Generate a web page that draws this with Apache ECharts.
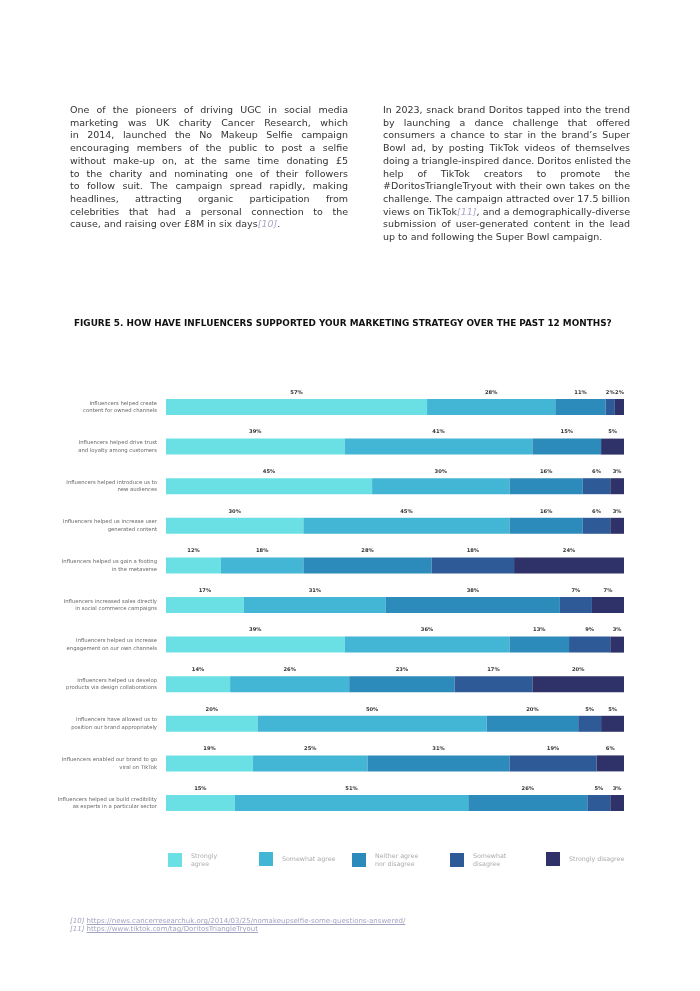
<!DOCTYPE html>
<html>
<head>
<meta charset="utf-8">
<script src="https://cdn.jsdelivr.net/npm/echarts@6/dist/echarts.min.js"></script>
<style>
html,body{margin:0;padding:0;background:#fff;width:700px;height:991px;overflow:hidden;}
#chart{position:absolute;left:0;top:0;width:700px;height:991px;}
.col{position:absolute;top:104px;font-family:'DejaVu Sans',sans-serif;font-size:9.5px;line-height:12.7px;color:#333;z-index:2;}
.col div{text-align:justify;text-align-last:justify;white-space:nowrap;}
.col div.last{text-align-last:left;}
.ref{font-style:italic;color:#a9a9c6;}
#notes{position:absolute;left:70px;top:917px;font-family:'DejaVu Sans',sans-serif;font-size:7px;line-height:8px;color:#a3a3c2;z-index:2;}
#notes span{font-style:italic;}
#notes u{text-decoration:underline;}
</style>
</head>
<body>
<div id="chart"></div>
<div class="col" style="left:70px;width:278px;">
<div>One of the pioneers of driving UGC in social media</div>
<div>marketing was UK charity Cancer Research, which</div>
<div>in 2014, launched the No Makeup Selfie campaign</div>
<div>encouraging members of the public to post a selfie</div>
<div>without make-up on, at the same time donating £5</div>
<div>to the charity and nominating one of their followers</div>
<div>to follow suit. The campaign spread rapidly, making</div>
<div>headlines, attracting organic participation from</div>
<div>celebrities that had a personal connection to the</div>
<div class="last">cause, and raising over £8M in six days<span class="ref">[10]</span>.</div>
</div>
<div class="col" style="left:383px;width:247px;">
<div>In 2023, snack brand Doritos tapped into the trend</div>
<div>by launching a dance challenge that offered</div>
<div>consumers a chance to star in the brand’s Super</div>
<div>Bowl ad, by posting TikTok videos of themselves</div>
<div>doing a triangle-inspired dance. Doritos enlisted the</div>
<div>help of TikTok creators to promote the</div>
<div>#DoritosTriangleTryout with their own takes on the</div>
<div>challenge. The campaign attracted over 17.5 billion</div>
<div>views on TikTok<span class="ref">[11]</span>, and a demographically-diverse</div>
<div>submission of user-generated content in the lead</div>
<div class="last">up to and following the Super Bowl campaign.</div>
</div>
<div id="notes">
<div><span>[10]</span> <u>https://news.cancerresearchuk.org/2014/03/25/nomakeupselfie-some-questions-answered/</u></div>
<div><span>[11]</span> <u>https://www.tiktok.com/tag/DoritosTriangleTryout</u></div>
</div>
<script>
const categories = [
  'Influencers helped create\ncontent for owned channels',
  'Influencers helped drive trust\nand loyalty among customers',
  'Influencers helped introduce us to\nnew audiences',
  'Influencers helped us increase user\ngenerated content',
  'Influencers helped us gain a footing\nin the metaverse',
  'Influencers increased sales directly\nin social commerce campaigns',
  'Influencers helped us increase\nengagement on our own channels',
  'Influencers helped us develop\nproducts via design collaborations',
  'Influencers have allowed us to\nposition our brand appropriately',
  'Influencers enabled our brand to go\nviral on TikTok',
  'Influencers helped us build credibility\nas experts in a particular sector'
];
const seriesNames = ['Strongly agree','Somewhat agree','Neither agree nor disagree','Somewhat disagree','Strongly disagree'];
const legendLabels = ['Strongly\nagree','Somewhat agree','Neither agree\nnor disagree','Somewhat\ndisagree','Strongly disagree'];
const stronglyAgree    = [57,39,45,30,12,17,39,14,20,19,15];
const somewhatAgree    = [28,41,30,45,18,31,36,26,50,25,51];
const neither          = [11,15,16,16,28,38,13,23,20,31,26];
const somewhatDisagree = [2, 0, 6, 6,18, 7, 9,17, 5,19, 5];
const stronglyDisagree = [2, 5, 3, 3,24, 7, 3,20, 5, 6, 3];
const seriesData = [stronglyAgree, somewhatAgree, neither, somewhatDisagree, stronglyDisagree];
const colors = ['#6ae0e5','#43b6d5','#2d8bbb','#2e5b97','#2f3269'];
const titleText = 'FIGURE 5. HOW HAVE INFLUENCERS SUPPORTED YOUR MARKETING STRATEGY OVER THE PAST 12 MONTHS?';

const chart = echarts.init(document.getElementById('chart'), null, {renderer:'canvas'});
const legendLefts = [168, 259, 352, 450, 546];
const font = 'DejaVu Sans';
const option = {
  animation: false,
  backgroundColor: '#fff',
  color: colors,
  title: {
    text: titleText, left: 74, top: 319, padding: 0,
    textStyle: {fontFamily: font, fontSize: 8.9, fontWeight: 'bold', color: '#111'}
  },
  legend: seriesNames.map((n, i) => ({
    data: [n], left: legendLefts[i], top: 852, padding: 0,
    icon: 'rect', itemWidth: 14, itemHeight: 14, selectedMode: false,
    formatter: name => legendLabels[seriesNames.indexOf(name)],
    textStyle: {fontFamily: font, fontSize: 6.3, lineHeight: 8, color: '#ababab', padding: [0,0,0,4]}
  })),
  grid: {left: 166, right: 76, top: 387.2, height: 435.6, containLabel: false},
  xAxis: {type: 'value', min: 0, max: 100, show: false},
  yAxis: {
    type: 'category', inverse: true, data: categories,
    axisLine: {show: false}, axisTick: {show: false}, splitLine: {show: false},
    axisLabel: {fontFamily: font, fontSize: 5.3, lineHeight: 7.5, color: '#666', margin: 9, align: 'right'}
  },
  series: seriesNames.map((n, i) => ({
    name: n, type: 'bar', stack: 'total', barWidth: 16,
    data: seriesData[i],
    itemStyle: {color: colors[i]},
    label: {
      show: true, position: 'top', distance: 4,
      formatter: p => p.value > 0 ? p.value + '%' : '',
      fontFamily: font, fontSize: 5.2, fontWeight: 'bold', color: '#333'
    }
  }))
};
chart.setOption(option);
</script>
</body>
</html>
